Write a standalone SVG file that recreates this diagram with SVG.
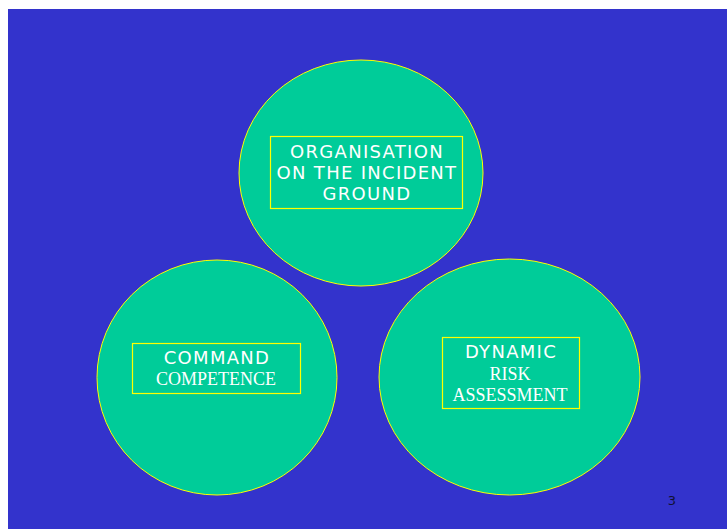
<svg xmlns="http://www.w3.org/2000/svg" width="727" height="529" viewBox="0 0 727 529">
<style>
.c{fill:#00CC99;stroke:#FFFF00;stroke-width:1}
.b{fill:none;stroke:#FFFF00;stroke-width:1.2}
.s{font-family:"DejaVu Sans","Liberation Sans",sans-serif;font-size:18px;letter-spacing:1.3px;fill:#FFFFFF;text-anchor:middle}
.t{font-family:"Liberation Serif",serif;font-size:18px;fill:#FFFFFF;text-anchor:middle}
</style>
<rect x="0" y="0" width="727" height="529" fill="#FFFFFF"/>
<rect x="8" y="9" width="719" height="520" fill="#3333CC"/>
<g id="organisation">
<ellipse class="c" cx="361" cy="173" rx="122" ry="113"/>
<rect class="b" x="270.5" y="136.5" width="192" height="72"/>
<text class="s" x="367" y="158">ORGANISATION</text>
<text class="s" x="367" y="179">ON THE INCIDENT</text>
<text class="s" x="367" y="200">GROUND</text>
</g>
<g id="command">
<ellipse class="c" cx="217" cy="377.5" rx="120" ry="117.5"/>
<rect class="b" x="132.5" y="343.5" width="168" height="50"/>
<text class="s" x="217" y="364">COMMAND</text>
<text class="t" x="216" y="385">COMPETENCE</text>
</g>
<g id="dynamic">
<ellipse class="c" cx="509.5" cy="377" rx="130.5" ry="118"/>
<rect class="b" x="442.5" y="337.5" width="137" height="71"/>
<text class="s" x="511" y="358">DYNAMIC</text>
<text class="t" x="510" y="380">RISK</text>
<text class="t" x="510" y="401">ASSESSMENT</text>
</g>
<g id="connectors"/>
<text x="672" y="505" font-family="DejaVu Sans,sans-serif" font-size="13" fill="#111133" text-anchor="middle">3</text>
</svg>
